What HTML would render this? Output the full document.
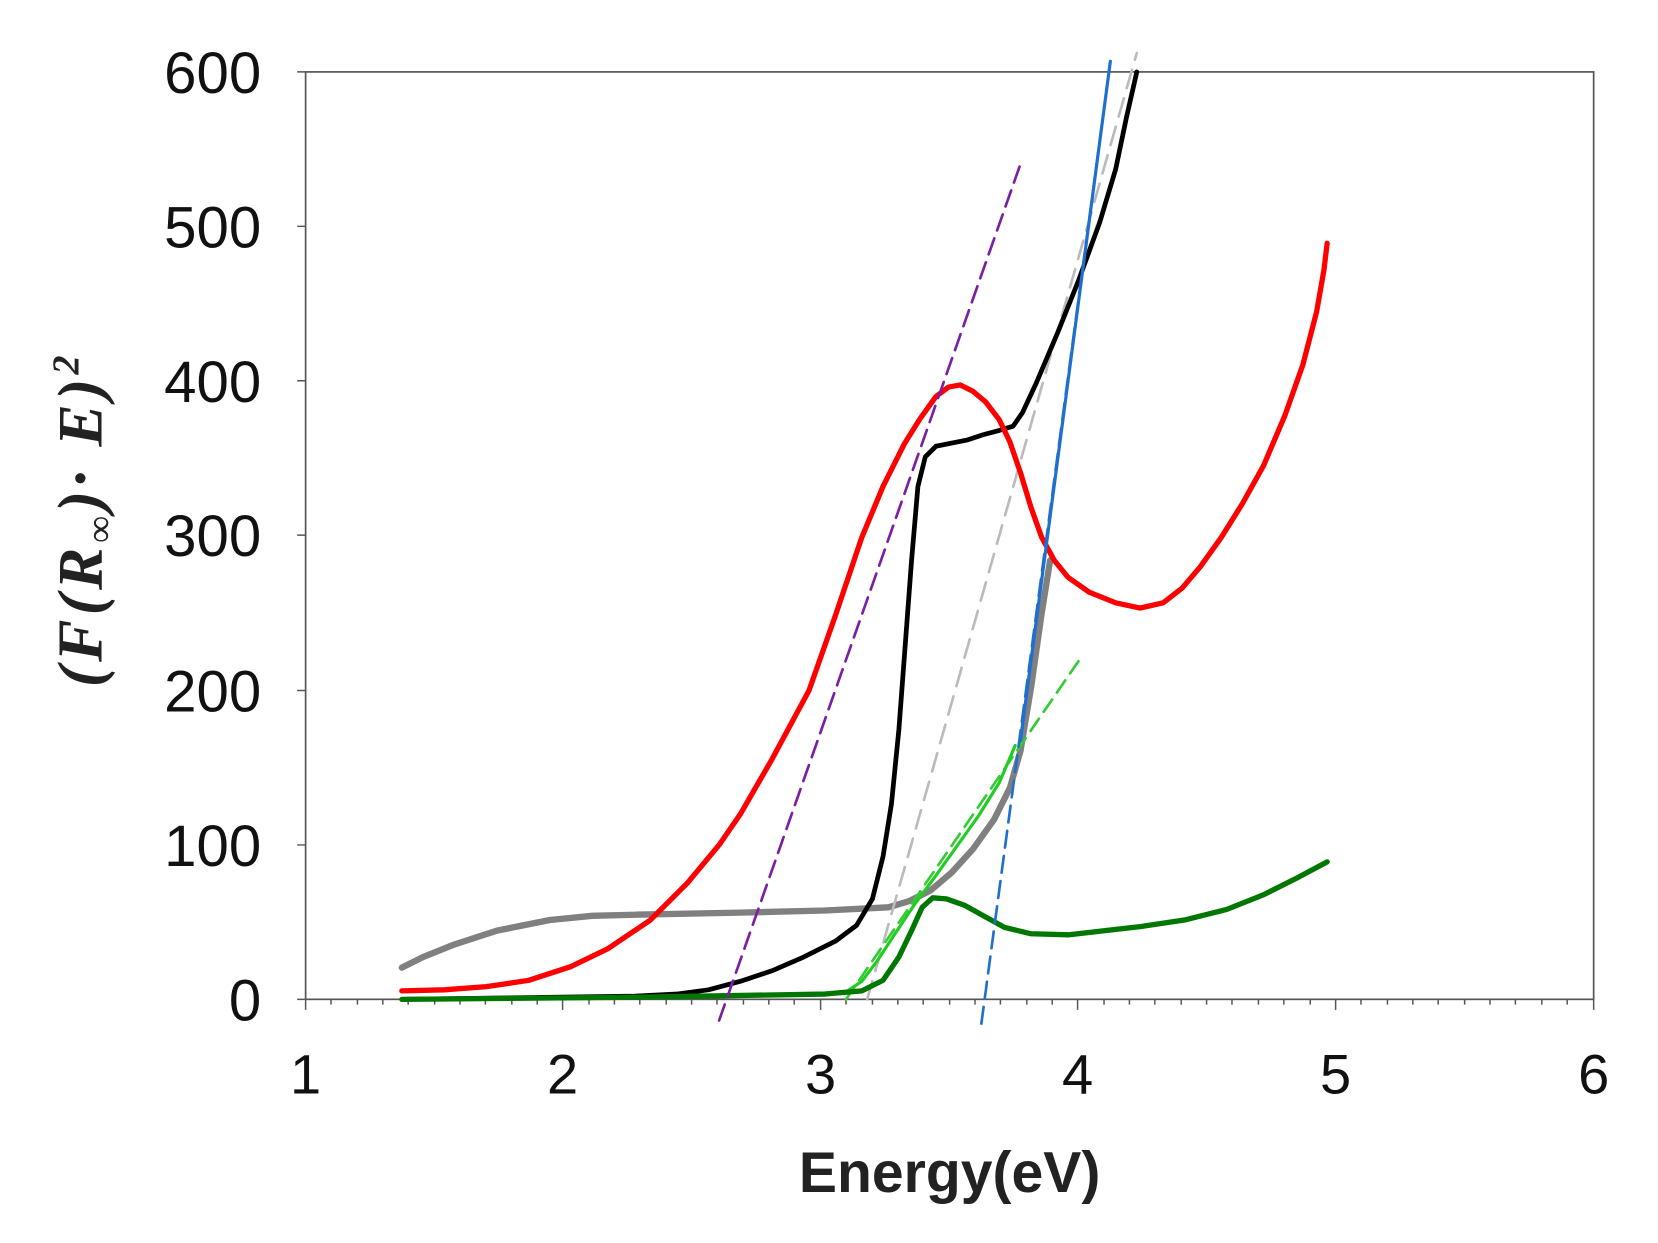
<!DOCTYPE html>
<html><head><meta charset="utf-8"><style>html,body{margin:0;padding:0;background:#fff}svg{display:block}</style></head>
<body>
<svg width="1658" height="1243" viewBox="0 0 1658 1243" xmlns="http://www.w3.org/2000/svg">
<rect width="1658" height="1243" fill="#fff"/>
<g transform="scale(1.0575)">
<rect x="289" y="68" width="1218" height="877" fill="none" stroke="#555" stroke-width="1.6"/>
<g stroke="#555" stroke-width="1.4">
<path d="M281 68H289M281 214H289M281 360H289M281 506H289M281 653H289M281 799H289M281 945H289"/>
<path d="M289 945V955M532 945V955M776 945V955M1019 945V955M1263 945V955M1507 945V955"/>
<path d="M313 945v5M338 945v5M362 945v5M386 945v5M411 945v5M435 945v5M459 945v5M484 945v5M508 945v5M557 945v5M581 945v5M605 945v5M630 945v5M654 945v5M678 945v5M703 945v5M727 945v5M751 945v5M800 945v5M825 945v5M849 945v5M873 945v5M898 945v5M922 945v5M946 945v5M971 945v5M995 945v5M1044 945v5M1068 945v5M1092 945v5M1117 945v5M1141 945v5M1165 945v5M1190 945v5M1214 945v5M1239 945v5M1287 945v5M1312 945v5M1336 945v5M1360 945v5M1385 945v5M1409 945v5M1433 945v5M1458 945v5M1482 945v5"/>
</g>
<g font-family="Liberation Sans, sans-serif" font-size="55" fill="#111" text-anchor="end">
<text x="247" y="88">600</text><text x="247" y="234">500</text><text x="247" y="380">400</text><text x="247" y="526">300</text><text x="247" y="673">200</text><text x="247" y="819">100</text><text x="247" y="965">0</text>
</g>
<g font-family="Liberation Sans, sans-serif" font-size="53" fill="#111" text-anchor="middle">
<text x="289" y="1034">1</text><text x="532" y="1034">2</text><text x="776" y="1034">3</text><text x="1019" y="1034">4</text><text x="1263" y="1034">5</text><text x="1507" y="1034">6</text>
</g>
<text x="898" y="1127" font-family="Liberation Sans, sans-serif" font-weight="bold" font-size="54" text-anchor="middle" fill="#222">Energy(eV)</text>
<text transform="translate(96,491) rotate(-90)" font-family="Liberation Serif, serif" font-weight="bold" font-style="italic" font-size="60" letter-spacing="4" text-anchor="middle" fill="#222">(F(R<tspan font-size="36" dy="10">∞</tspan><tspan dy="-10">)· E)</tspan><tspan font-size="36" dy="-22">2</tspan></text>
<g fill="none" stroke-linecap="round" stroke-linejoin="round">
<path d="M380 915 L400 905 L430 893 L470 880 L520 870 L560 866 L600 865 L700 863 L780 861 L840 858 L860 852 L880 842 L900 825 L920 803 L940 775 L955 745 L965 710 L975 650 L985 580 L993 530" stroke="#808080" stroke-width="6"/>
<path d="M820 945 L1075 50" stroke="#bbb" stroke-width="2.5" stroke-dasharray="18 10"/>
<path d="M380 945 L600 942 L640 940 L670 936 L700 928 L730 918 L760 905 L790 890 L810 875 L825 850 L835 810 L843 760 L850 690 L856 610 L862 530 L868 460 L875 432 L885 422 L900 419 L915 416 L930 411 L945 407 L958 403 L967 390 L980 362 L1000 315 L1020 265 L1040 210 L1055 160 L1065 112 L1075 68" stroke="#000" stroke-width="4.5"/>
<path d="M380 937 L420 936 L460 933 L500 927 L540 914 L575 897 L615 870 L650 835 L680 799 L700 770 L730 718 L765 653 L790 582 L815 508 L835 460 L855 420 L870 396 L885 375 L897 366 L908 364 L920 370 L932 380 L945 397 L955 418 L965 447 L975 480 L985 508 L997 530 L1010 546 L1030 560 L1055 570 L1078 575 L1100 570 L1118 556 L1135 536 L1155 508 L1175 476 L1195 440 L1215 393 L1232 345 L1245 295 L1252 255 L1255 230" stroke="#f00" stroke-width="5"/>
<path d="M800 945 L1020 625" stroke="#3c3" stroke-width="2.5" stroke-dasharray="14 8"/>
<path d="M780 940 L800 938 L815 928 L830 908 L845 885 L865 855 L885 828 L905 800 L925 772 L945 740 L960 705" stroke="#2c2" stroke-width="3"/>
<path d="M380 945 L600 943 L780 940 L815 937 L835 927 L850 905 L862 880 L872 858 L882 849 L895 850 L912 856 L930 866 L950 877 L975 883 L1010 884 L1045 880 L1080 876 L1120 870 L1160 860 L1195 846 L1225 831 L1255 815" stroke="#007700" stroke-width="5"/>
<path d="M680 965 L965 155" stroke="#7a1fa0" stroke-width="2.5" stroke-dasharray="16 8"/>
<path d="M928 968 L1050 58" stroke="#1f6fd0" stroke-width="2.5" stroke-dasharray="16 8"/>
<path d="M965 700 L1050 58" stroke="#1f6fd0" stroke-width="3"/>
</g>
</g>
</svg>
</body></html>
